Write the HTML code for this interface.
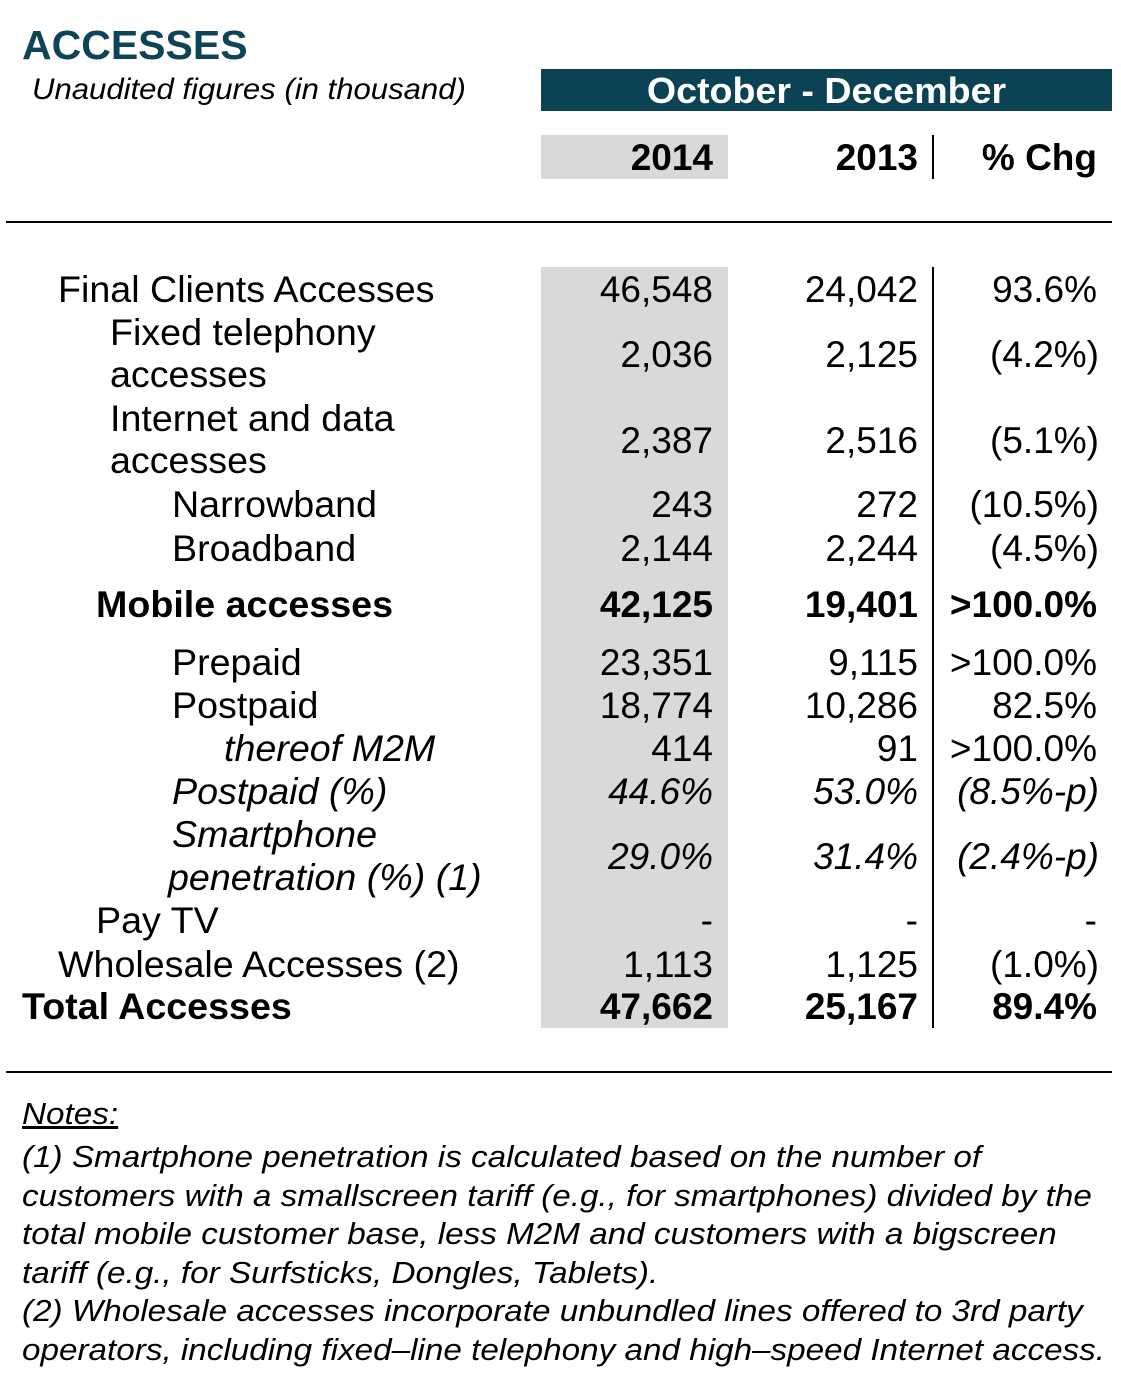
<!DOCTYPE html>
<html><head><meta charset="utf-8"><style>
body{margin:0;width:1121px;height:1383px;background:#fff;position:relative;overflow:hidden;font-family:"Liberation Sans",Arial,sans-serif;color:#000}
div{position:absolute;white-space:nowrap;line-height:1}
.r{font-size:37px}
.L{transform:scaleX(1.017);transform-origin:left}
.b{font-weight:bold}
.i{font-style:italic}
.v1{right:408px;text-align:right}
.v2{right:203px;text-align:right}
.v3{right:24px;text-align:right}
.n{font-size:30.5px;font-style:italic;left:22px;transform:scaleX(1.09);transform-origin:left}
</style></head><body>
<div style="left:22px;top:25px;font-size:41px;font-weight:bold;color:#0d4457">ACCESSES</div>
<div style="left:32px;top:75px;font-size:29.5px;font-style:italic;transform:scaleX(1.054);transform-origin:left">Unaudited figures (in thousand)</div>
<div style="left:541px;top:69px;width:571px;height:42px;background:#0b4254"></div>
<div style="left:541px;top:73px;width:571px;text-align:center;font-size:36px;font-weight:bold;color:#fff;transform:scaleX(1.044)">October - December</div>
<div style="left:541px;top:135px;width:187px;height:44px;background:#d9d9d9"></div>
<div style="left:541px;top:267px;width:187px;height:761px;background:#d9d9d9"></div>
<div style="left:932px;top:135px;width:2px;height:44px;background:#000"></div>
<div style="left:932px;top:267px;width:2px;height:761px;background:#000"></div>
<div style="left:6px;top:221px;width:1106px;height:2px;background:#000"></div>
<div style="left:6px;top:1071px;width:1106px;height:2px;background:#000"></div>

<div class="r b v1" style="top:139px">2014</div>
<div class="r b v2" style="top:139px">2013</div>
<div class="r b v3" style="top:139px">% Chg</div>

<div class="r L" style="left:58px;top:271px">Final Clients Accesses</div>
<div class="r v1" style="top:271px">46,548</div><div class="r v2" style="top:271px">24,042</div><div class="r v3" style="top:271px">93.6%</div>

<div class="r L" style="left:110px;top:314px">Fixed telephony</div>
<div class="r L" style="left:110px;top:356px">accesses</div>
<div class="r v1" style="top:336px">2,036</div><div class="r v2" style="top:336px">2,125</div><div class="r v3" style="top:336px;right:22px">(4.2%)</div>

<div class="r L" style="left:110px;top:400px">Internet and data</div>
<div class="r L" style="left:110px;top:442px">accesses</div>
<div class="r v1" style="top:422px">2,387</div><div class="r v2" style="top:422px">2,516</div><div class="r v3" style="top:422px;right:22px">(5.1%)</div>

<div class="r L" style="left:172px;top:486px">Narrowband</div>
<div class="r v1" style="top:486px">243</div><div class="r v2" style="top:486px">272</div><div class="r v3" style="top:486px;right:22px">(10.5%)</div>

<div class="r L" style="left:172px;top:530px">Broadband</div>
<div class="r v1" style="top:530px">2,144</div><div class="r v2" style="top:530px">2,244</div><div class="r v3" style="top:530px;right:22px">(4.5%)</div>

<div class="r b L" style="left:96px;top:586px">Mobile accesses</div>
<div class="r b v1" style="top:586px">42,125</div><div class="r b v2" style="top:586px">19,401</div><div class="r b v3" style="top:586px">&gt;100.0%</div>

<div class="r L" style="left:172px;top:644px">Prepaid</div>
<div class="r v1" style="top:644px">23,351</div><div class="r v2" style="top:644px">9,115</div><div class="r v3" style="top:644px">&gt;100.0%</div>

<div class="r L" style="left:172px;top:687px">Postpaid</div>
<div class="r v1" style="top:687px">18,774</div><div class="r v2" style="top:687px">10,286</div><div class="r v3" style="top:687px">82.5%</div>

<div class="r i L" style="left:224px;top:730px">thereof M2M</div>
<div class="r v1" style="top:730px">414</div><div class="r v2" style="top:730px">91</div><div class="r v3" style="top:730px">&gt;100.0%</div>

<div class="r i L" style="left:172px;top:773px">Postpaid (%)</div>
<div class="r i v1" style="top:773px">44.6%</div><div class="r i v2" style="top:773px">53.0%</div><div class="r i v3" style="top:773px;right:22px">(8.5%-p)</div>

<div class="r i L" style="left:172px;top:816px">Smartphone</div>
<div class="r i L" style="left:168px;top:859px">penetration (%) (1)</div>
<div class="r i v1" style="top:838px">29.0%</div><div class="r i v2" style="top:838px">31.4%</div><div class="r i v3" style="top:838px;right:22px">(2.4%-p)</div>

<div class="r L" style="left:96px;top:902px">Pay TV</div>
<div class="r v1" style="top:902px">-</div><div class="r v2" style="top:902px">-</div><div class="r v3" style="top:902px">-</div>

<div class="r L" style="left:58px;top:946px">Wholesale Accesses (2)</div>
<div class="r v1" style="top:946px">1,113</div><div class="r v2" style="top:946px">1,125</div><div class="r v3" style="top:946px;right:22px">(1.0%)</div>

<div class="r b L" style="left:22px;top:988px">Total Accesses</div>
<div class="r b v1" style="top:988px">47,662</div><div class="r b v2" style="top:988px">25,167</div><div class="r b v3" style="top:988px">89.4%</div>

<div class="n" style="top:1099px;text-decoration:underline">Notes:</div>
<div class="n" style="top:1142px">(1) Smartphone penetration is calculated based on the number of</div>
<div class="n" style="top:1181px">customers with a smallscreen tariff (e.g., for smartphones) divided by the</div>
<div class="n" style="top:1219px">total mobile customer base, less M2M and customers with a bigscreen</div>
<div class="n" style="top:1258px">tariff (e.g., for Surfsticks, Dongles, Tablets).</div>
<div class="n" style="top:1296px">(2) Wholesale accesses incorporate unbundled lines offered to 3rd party</div>
<div class="n" style="top:1335px">operators, including fixed–line telephony and high–speed Internet access.</div>
</body></html>
